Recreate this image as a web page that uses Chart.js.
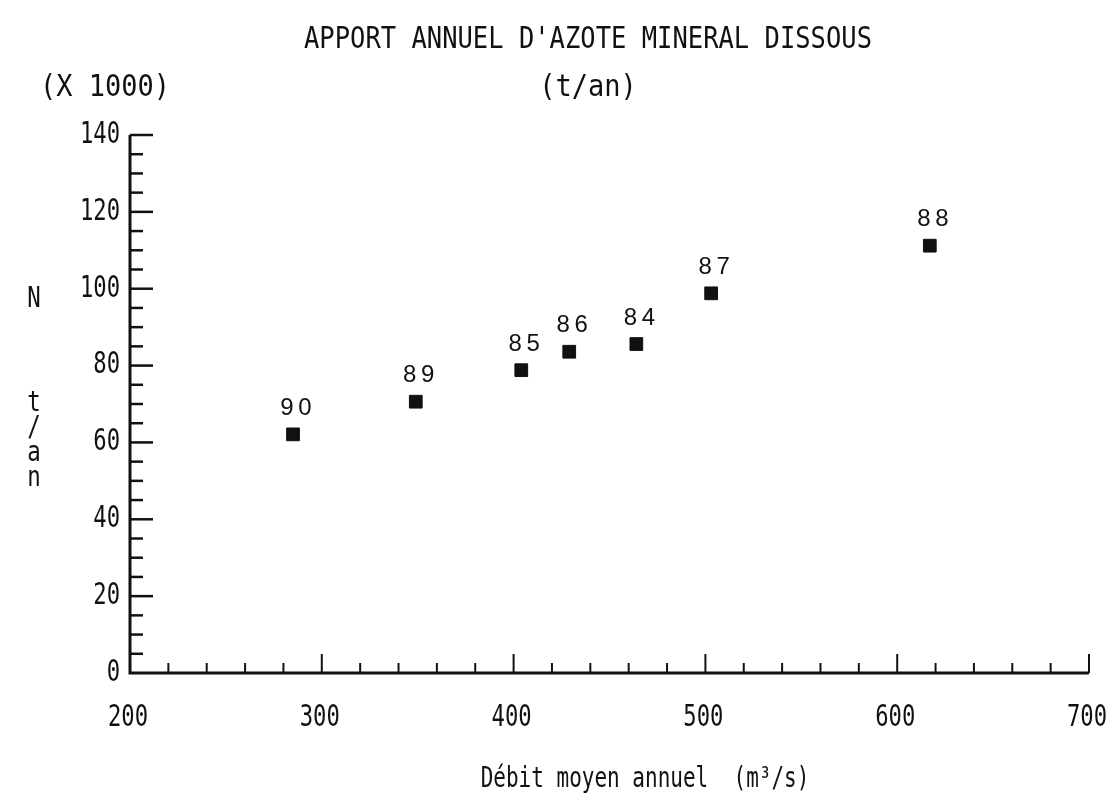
<!DOCTYPE html>
<html>
<head>
<meta charset="utf-8">
<script src="https://cdn.jsdelivr.net/npm/chart.js@4.4.1/dist/chart.umd.min.js"></script>
<style>
  html, body { margin: 0; background: #fff; }
  #wrap { width: 1113px; height: 807px; }
</style>
</head>
<body>
<div id="wrap"><canvas id="chart"></canvas></div>
<script>
// data
const years = ['90', '89', '85', '86', '84', '87', '88'];
const debit = [285, 349, 404, 429, 464, 503, 617];          // m3/s
const azote = [62.1, 70.6, 78.8, 83.6, 85.6, 98.8, 111.2];  // x 1000 t/an

const xTicks = [200, 300, 400, 500, 600, 700];
const yTicks = [0, 20, 40, 60, 80, 100, 120, 140];

const MONO = '"DejaVu Sans Mono", monospace';

// plotter-looking text: monospace squeezed horizontally
function txt(ctx, s, x, y, size, sx, align) {
    ctx.save();
    ctx.translate(x, y);
    ctx.scale(sx, 1);
    ctx.font = size + 'px ' + MONO;
    ctx.textAlign = align || 'center';
    ctx.textBaseline = 'middle';
    ctx.fillStyle = '#111';
    ctx.fillText(s, 0, 0);
    ctx.restore();
}

const plotterAxes = {
    id: 'plotterAxes',
    beforeDatasetsDraw(chart) {
        const ctx = chart.ctx;
        const xs = chart.scales.x, ys = chart.scales.y;
        const left = xs.getPixelForValue(xs.min);
        const right = xs.getPixelForValue(xs.max);
        const bottom = ys.getPixelForValue(ys.min);
        const top = ys.getPixelForValue(ys.max);

        ctx.save();
        ctx.strokeStyle = '#111';
        ctx.lineCap = 'butt';

        // axis lines
        ctx.lineWidth = 3;
        ctx.beginPath();
        ctx.moveTo(left, top);
        ctx.lineTo(left, bottom);
        ctx.lineTo(right, bottom);
        ctx.stroke();

        // x ticks, every 20, pointing up
        ctx.lineWidth = 2;
        for (let v = xs.min + 20; v <= xs.max; v += 20) {
            const px = xs.getPixelForValue(v);
            const len = (v % 100 === 0) ? 19 : 10;
            ctx.beginPath();
            ctx.moveTo(px, bottom);
            ctx.lineTo(px, bottom - len);
            ctx.stroke();
        }
        // y ticks, every 5, pointing right
        ctx.lineWidth = 2.5;
        for (let v = ys.min + 5; v <= ys.max; v += 5) {
            const py = ys.getPixelForValue(v);
            const len = (v % 20 === 0) ? 23 : 13;
            ctx.beginPath();
            ctx.moveTo(left, py);
            ctx.lineTo(left + len, py);
            ctx.stroke();
        }
        ctx.restore();

        // tick labels
        xs.ticks.forEach(t => {
            txt(ctx, String(t.value), xs.getPixelForValue(t.value) - 2, bottom + 45, 30, 0.74);
        });
        ys.ticks.forEach(t => {
            txt(ctx, String(t.value), left - 10, ys.getPixelForValue(t.value), 30, 0.74, 'right');
        });

        // titles
        txt(ctx, "APPORT ANNUEL D'AZOTE MINERAL DISSOUS", 588, 40, 30, 0.85);
        txt(ctx, '(X 1000)', 105, 88, 30, 0.9);
        txt(ctx, '(t/an)', 588, 88, 30, 0.9);
        txt(ctx, 'Débit moyen annuel  (m³/s)', 645, 780, 28, 0.75);

        // vertical unit label
        txt(ctx, 'N', 34, 300, 28, 0.8);
        ['t', '/', 'a', 'n'].forEach((c, i) => {
            txt(ctx, c, 34, 404 + i * 25, 28, 0.8);
        });
    },
    afterDatasetsDraw(chart) {
        const ctx = chart.ctx;
        const meta = chart.getDatasetMeta(0);
        ctx.save();
        ctx.font = '24px "Liberation Sans", Arial, sans-serif';
        ctx.textAlign = 'center';
        ctx.textBaseline = 'middle';
        ctx.fillStyle = '#111';
        meta.data.forEach((pt, i) => {
            const chars = years[i].split('');
            chars.forEach((c, k) => {
                ctx.fillText(c, pt.x + 3 + (k - (chars.length - 1) / 2) * 18, pt.y - 26);
            });
        });
        ctx.restore();
    }
};

new Chart(document.getElementById('chart'), {
    type: 'scatter',
    data: {
        datasets: [{
            label: 'Azote',
            data: debit.map((d, i) => ({ x: d, y: azote[i] })),
            pointStyle: 'rect',
            pointRadius: 9,
            backgroundColor: '#111',
            borderColor: '#111',
            borderWidth: 1
        }]
    },
    options: {
        responsive: true,
        maintainAspectRatio: false,
        animation: false,
        layout: {
            padding: { left: 130, right: 24, top: 135, bottom: 134 }
        },
        scales: {
            x: {
                display: false,
                type: 'linear',
                min: 200,
                max: 700,
                afterBuildTicks: s => { s.ticks = xTicks.map(v => ({ value: v })); }
            },
            y: {
                display: false,
                min: 0,
                max: 140,
                afterBuildTicks: s => { s.ticks = yTicks.map(v => ({ value: v })); }
            }
        },
        plugins: {
            legend: { display: false },
            tooltip: { enabled: false }
        }
    },
    plugins: [plotterAxes]
});
</script>
</body>
</html>
